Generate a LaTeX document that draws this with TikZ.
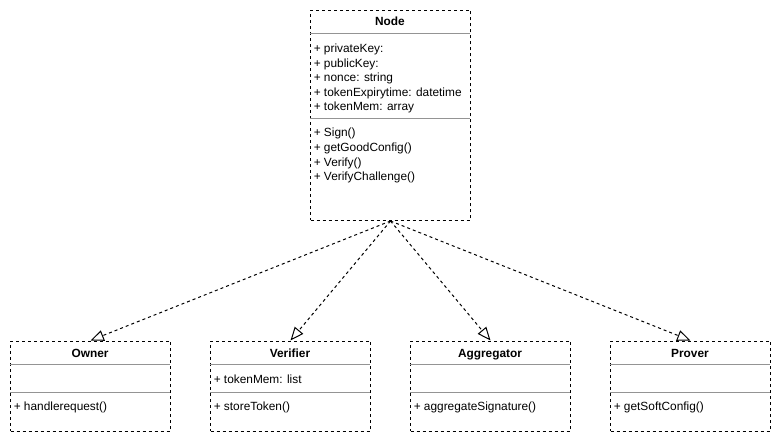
\documentclass[tikz,border=0pt]{standalone}
\usepackage{fontspec}
\setmainfont{Liberation Sans}
\usetikzlibrary{arrows.meta}
\begin{document}
\begin{tikzpicture}[x=0.75pt,y=-0.75pt,
 classbox/.style={draw=black, line width=0.75pt, dash pattern=on 2.25pt off 2.25pt, minimum width=120pt, inner sep=0pt, anchor=north west},
 divider/.style={draw=black!42, line width=0.75pt},
 ctitle/.style={font=\bfseries\fontsize{8.9}{10}\selectfont, inner sep=0pt, anchor=base},
 member/.style={font=\fontsize{8.9}{10}\selectfont, inner sep=0pt, anchor=base west},
 realize/.style={draw=black, line width=0.75pt, dash pattern=on 2.25pt off 2.25pt, -{Triangle[open, length=10pt, width=8.25pt]}}
]
\fill[white] (0,0) rectangle (781,441);
\useasboundingbox (0,0) rectangle (781,441);

% Node class
\node[classbox, minimum height=157.5pt] (node) at (310,10) {};
\draw[divider] (310,33.5) -- (470,33.5);
\draw[divider] (310,119) -- (470,119);
\node[ctitle] (nodet) at (390,26) {Node};
\node[member] (n1) at (313.5,53) {+ privateKey:};
\node[member] (n2) at (313.5,67.5) {+ publicKey:};
\node[member] (n3) at (313.5,82) {+ nonce: string};
\node[member] (n4) at (313.5,96.5) {+ tokenExpirytime: datetime};
\node[member] (n5) at (313.5,111) {+ tokenMem: array};
\node[member] (m1) at (313.5,137) {+ Sign()};
\node[member] (m2) at (313.5,151.7) {+ getGoodConfig()};
\node[member] (m3) at (313.5,166.3) {+ Verify()};
\node[member] (m4) at (313.5,181) {+ VerifyChallenge()};

% Bottom classes
\foreach \nm/\x/\t in {owner/10/Owner, verifier/210/Verifier, aggregator/410/Aggregator, prover/610/Prover}{
  \node[classbox, minimum height=67.5pt] (\nm) at (\x,340.5) {};
  \draw[divider] (\x,364) -- ++(160,0);
  \draw[divider] (\x,392) -- ++(160,0);
  \node[ctitle] (\nm t) at (\x+80,357) {\t};
}
\node[member] (oa) at (13.5,410) {+ handlerequest()};
\node[member] (va) at (213.5,383) {+ tokenMem: list};
\node[member] (vm) at (213.5,410) {+ storeToken()};
\node[member] (am) at (413.5,410) {+ aggregateSignature()};
\node[member] (pm) at (613.5,410) {+ getSoftConfig()};

% Realization connectors
\draw[realize] (node.south) -- (owner.north);
\draw[realize] (node.south) -- (verifier.north);
\draw[realize] (node.south) -- (aggregator.north);
\draw[realize] (node.south) -- (prover.north);
\end{tikzpicture}
\end{document}
